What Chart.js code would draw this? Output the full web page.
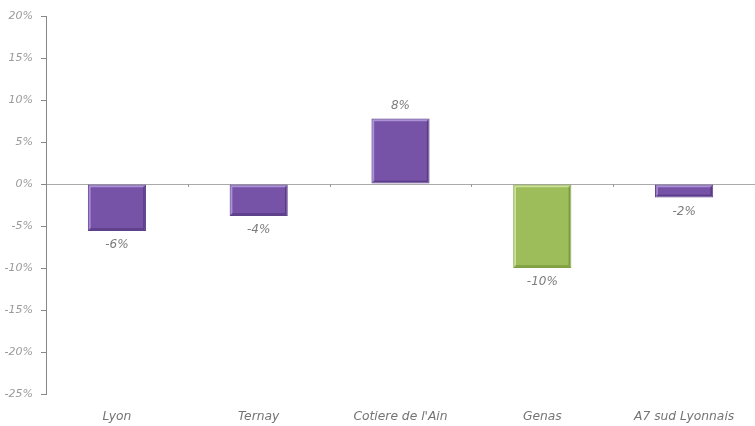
<!DOCTYPE html>
<html>
<head>
<meta charset="utf-8">
<script src="https://cdn.jsdelivr.net/npm/chart.js@4.4.1/dist/chart.umd.min.js"></script>
<style>
  html, body { margin: 0; padding: 0; background: #fff; }
  #wrap { width: 755px; height: 426px; position: relative; }
</style>
</head>
<body>
<div id="wrap"><canvas id="chart"></canvas></div>
<script>
const categories = ['Lyon', 'Ternay', "Cotiere de l'Ain", 'Genas', 'A7 sud Lyonnais'];
const variation = [-5.6, -3.8, 7.8, -10.0, -1.6];
const highlighted = [false, false, false, true, false];
const yTicks = [20, 15, 10, 5, 0, -5, -10, -15, -20, -25];

const PURPLE = { fill: '#7753a8', light: 'rgba(190,165,230,0.75)', dark: 'rgba(70,45,110,0.6)', border: '#5e418b' };
const GREEN = { fill: '#9dbd5b', light: 'rgba(220,240,170,0.75)', dark: 'rgba(95,125,40,0.55)', border: '#7f9e42' };

// soft bevel on each bar + value labels under/over it
const barDecor = {
  id: 'barDecor',
  afterDatasetsDraw(chart) {
    const ctx = chart.ctx;
    const meta = chart.getDatasetMeta(0);
    meta.data.forEach((bar, i) => {
      const pal = highlighted[i] ? GREEN : PURPLE;
      const top = Math.min(bar.y, bar.base);
      const bottom = Math.max(bar.y, bar.base);
      const left = bar.x - bar.width / 2;
      const right = bar.x + bar.width / 2;
      ctx.save();
      ctx.lineWidth = 1.5;
      ctx.strokeStyle = pal.light;
      ctx.beginPath();
      ctx.moveTo(left + 2, bottom - 2);
      ctx.lineTo(left + 2, top + 2);
      ctx.lineTo(right - 2, top + 2);
      ctx.stroke();
      ctx.strokeStyle = pal.dark;
      ctx.beginPath();
      ctx.moveTo(right - 2, top + 2);
      ctx.lineTo(right - 2, bottom - 2);
      ctx.lineTo(left + 2, bottom - 2);
      ctx.stroke();

      const v = variation[i];
      ctx.fillStyle = '#7c7c7c';
      ctx.font = 'italic 12px "DejaVu Sans"';
      ctx.textAlign = 'center';
      ctx.textBaseline = 'middle';
      const ly = v < 0 ? bottom + 14 : top - 13;
      ctx.fillText(Math.round(v) + '%', bar.x, ly);
      ctx.restore();
    });

    // small category separators below the zero line
    const xs = chart.scales.x;
    const y0 = chart.scales.y.getPixelForValue(0);
    ctx.save();
    ctx.strokeStyle = '#999';
    ctx.lineWidth = 1;
    for (let i = 1; i < categories.length; i++) {
      const px = Math.round((xs.getPixelForTick(i - 1) + xs.getPixelForTick(i)) / 2) + 0.5;
      ctx.beginPath();
      ctx.moveTo(px, y0);
      ctx.lineTo(px, y0 + 3);
      ctx.stroke();
    }
    ctx.restore();
  }
};

new Chart(document.getElementById('chart'), {
  type: 'bar',
  data: {
    labels: categories,
    datasets: [{
      data: variation,
      backgroundColor: highlighted.map(h => h ? GREEN.fill : PURPLE.fill),
      borderColor: highlighted.map(h => h ? GREEN.border : PURPLE.border),
      borderWidth: 1,
      borderSkipped: false,
      categoryPercentage: 1,
      barPercentage: 0.41
    }]
  },
  options: {
    responsive: true,
    maintainAspectRatio: false,
    animation: false,
    layout: { padding: { top: 16, right: 0, left: 0, bottom: 0 } },
    plugins: { legend: { display: false }, tooltip: { enabled: false } },
    scales: {
      x: {
        grid: { display: false, drawTicks: false },
        border: { display: false },
        ticks: {
          color: '#747474',
          padding: 15,
          font: { family: 'DejaVu Sans', size: 12.3, style: 'italic' }
        },
        afterFit(scale) { scale.height = 32; }
      },
      y: {
        min: -25,
        max: 20,
        afterBuildTicks(scale) { scale.ticks = yTicks.map(v => ({ value: v })); },
        grid: {
          color: ctx => ctx.tick && ctx.tick.value === 0 ? '#aaaaaa' : 'rgba(0,0,0,0)',
          tickColor: '#888',
          tickLength: 5,
          lineWidth: 1
        },
        border: { display: true, color: '#888', width: 1 },
        ticks: {
          color: '#9a9a9a',
          padding: 8,
          font: { family: 'DejaVu Sans', size: 11, style: 'italic' },
          callback: v => v + '%'
        },
        afterFit(scale) { scale.width = 46; }
      }
    }
  },
  plugins: [barDecor]
});
</script>
</body>
</html>
